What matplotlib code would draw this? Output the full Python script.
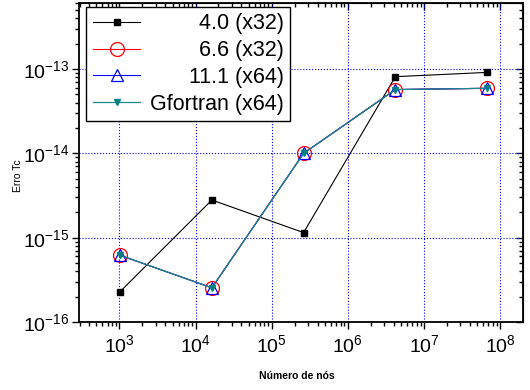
import matplotlib
matplotlib.use('Agg')
from matplotlib import pyplot as plt
from matplotlib.ticker import LogLocator, NullFormatter

plt.rcParams['font.family'] = ['Liberation Sans', 'DejaVu Sans']
plt.rcParams['mathtext.fontset'] = 'custom'
plt.rcParams['mathtext.rm'] = 'Liberation Sans'
plt.rcParams['mathtext.it'] = 'Liberation Sans'
plt.rcParams['mathtext.default'] = 'regular'
plt.rcParams['axes.unicode_minus'] = False

# number of nodes
nodes = [1024, 16384, 262144, 4194304, 67108864]

# error for each compiler
err_40 = [2.3e-16, 2.8e-15, 1.15e-15, 8.1e-14, 9.1e-14]
err_66 = [6.2e-16, 2.55e-16, 1.0e-14, 5.7e-14, 5.9e-14]
err_111 = [6.2e-16, 2.55e-16, 1.0e-14, 5.7e-14, 5.9e-14]
err_gf = [6.2e-16, 2.55e-16, 1.0e-14, 5.7e-14, 5.9e-14]

labels = ['4.0 (x32)', '6.6 (x32)', '11.1 (x64)', 'Gfortran (x64)']

fig = plt.figure(figsize=(5.3, 3.9), dpi=100)
ax = fig.add_axes([0.149, 0.174, 0.838, 0.818])

ax.plot(nodes, err_40, color='black', lw=0.8, marker='s', ms=4.5,
        mfc='black', mec='black', label=labels[0])
ax.plot(nodes, err_66, color='red', lw=0.8, marker='o', ms=10,
        mfc='none', mec='red', mew=0.9, label=labels[1])
ax.plot(nodes, err_111, color='blue', lw=0.8, marker='^', ms=8,
        mfc='none', mec='blue', mew=0.9, label=labels[2])
ax.plot(nodes, err_gf, color='#1a8a8a', lw=0.9, marker='v', ms=4.5,
        mfc='#008080', mec='#008080', label=labels[3])

ax.set_xscale('log')
ax.set_yscale('log')
ax.set_xlim(10**2.47, 10**8.3)
ax.set_ylim(1e-16, 10**-12.22)

for axis in [ax.xaxis, ax.yaxis]:
    axis.set_major_locator(LogLocator(base=10, numticks=20))
    axis.set_minor_locator(LogLocator(base=10, subs=range(2, 10), numticks=20))
    axis.set_minor_formatter(NullFormatter())

ax.grid(True, which='major', color='blue', ls=':', lw=0.8)
ax.tick_params(which='both', direction='out', labelsize=14, width=1.0)
ax.tick_params(which='major', length=5)
ax.tick_params(which='minor', length=3)
ax.tick_params(axis='y', pad=2)

# mirrored ticks on top and right, pointing in
sec_x = ax.secondary_xaxis('top')
sec_y = ax.secondary_yaxis('right')
for sec, axis in [(sec_x, sec_x.xaxis), (sec_y, sec_y.yaxis)]:
    axis.set_major_locator(LogLocator(base=10, numticks=20))
    axis.set_minor_locator(LogLocator(base=10, subs=range(2, 10), numticks=20))
    axis.set_major_formatter(NullFormatter())
    axis.set_minor_formatter(NullFormatter())
    sec.tick_params(which='both', direction='in', width=1.0)
    sec.tick_params(which='major', length=5)
    sec.tick_params(which='minor', length=3)

for s in ax.spines.values():
    s.set_linewidth(1.3)

ax.set_ylabel('Erro Tc', fontsize=7.5)
ax.yaxis.set_label_coords(-0.125, 0.46)
ax.set_xlabel('Número de nós', fontsize=7.5, fontweight='bold')
ax.xaxis.set_label_coords(0.49, -0.152)

leg = ax.legend(loc='upper left', bbox_to_anchor=(0.012, 0.995), fontsize=15.5,
                frameon=True, fancybox=False, edgecolor='black',
                handlelength=2.2, handletextpad=0.45, borderpad=0.3,
                labelspacing=0.27, borderaxespad=0.1)
leg.get_frame().set_linewidth(1.0)
leg.get_frame().set_alpha(1)

# right-align legend text by shifting shorter labels
fig.canvas.draw()
renderer = fig.canvas.get_renderer()
widths = [t.get_window_extent(renderer).width for t in leg.get_texts()]
for t, w in zip(leg.get_texts(), widths):
    t.set_position((max(widths) - w, 0))

fig.savefig('out.png', dpi=100)
